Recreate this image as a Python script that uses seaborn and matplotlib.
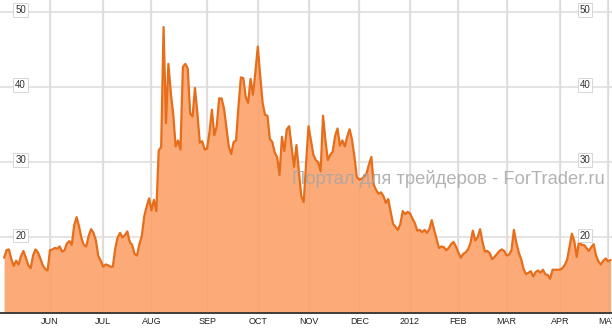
import numpy as np
import pandas as pd
import matplotlib
matplotlib.use("Agg")
import matplotlib.pyplot as plt
import matplotlib.transforms as mtransforms
import seaborn as sns

# ---- data, one value per trading day ----
may11 = [17.3, 18.3, 18.4, 17.1, 16.2, 16.9, 16.4, 17.5, 18.2, 17.3, 16.3, 15.9,
         17.6, 18.4, 18.0, 17.2, 16.3, 15.8, 15.6]
jun11 = [18.3, 18.4, 18.6, 18.5, 18.8, 18.1, 18.3, 19.2, 19.5, 19.0, 21.6, 22.7,
         21.5, 19.9, 19.0, 18.8, 20.2, 21.1, 20.6, 19.6, 17.5, 16.9]
jul11 = [16.1, 16.4, 16.3, 16.1, 16.1, 18.5, 20.0, 20.6, 20.0, 20.3, 20.8, 19.4,
         19.0, 17.8, 17.6, 19.1, 20.2, 22.8, 24.1, 25.2]
aug11 = [23.6, 25.0, 23.5, 31.6, 32.0, 48.0, 35.2, 43.1, 39.2, 36.4, 32.1, 32.9,
         31.7, 42.7, 43.1, 42.5, 36.5, 36.1, 39.9, 36.5, 32.6, 32.8, 31.7]
sep11 = [31.8, 34.0, 37.0, 33.6, 34.8, 38.5, 38.5, 37.2, 34.7, 32.1, 31.1, 32.7,
         32.9, 37.4, 41.3, 41.2, 38.7, 37.9, 41.1, 39.0, 42.0]
oct11 = [45.4, 41.5, 37.9, 36.3, 36.2, 33.1, 32.7, 31.3, 30.7, 28.3, 33.4, 31.5,
         34.4, 34.8, 32.0, 29.4, 32.3, 28.8, 25.5, 24.7, 29.9]
nov11 = [34.8, 32.9, 31.0, 30.3, 30.0, 28.8, 36.2, 32.9, 30.3, 31.0, 31.4, 33.5,
         34.5, 32.2, 32.9, 32.1, 33.4, 34.4, 33.0, 30.7, 28.0]
dec11 = [27.7, 27.8, 28.1, 28.5, 29.7, 30.7, 27.0, 26.3, 25.8, 26.0, 25.5, 24.6,
         25.1, 23.4, 21.8, 21.4, 21.0, 21.8, 23.5, 23.1, 23.4]
jan12 = [23.2, 22.5, 21.9, 20.9, 21.0, 20.7, 21.0, 20.6, 21.1, 22.3, 21.0, 19.8,
         18.6, 18.8, 18.7, 18.3, 18.6, 19.1, 19.4, 18.8]
feb12 = [18.0, 17.3, 17.8, 18.0, 18.4, 19.2, 20.9, 19.6, 20.0, 21.1, 19.4, 18.1,
         18.2, 17.9, 17.1, 17.4, 17.8, 18.2, 18.4, 18.2]
mar12 = [17.6, 17.7, 18.3, 21.0, 19.3, 18.0, 17.1, 15.8, 15.1, 15.3, 15.5, 14.8,
         15.4, 15.6, 15.3, 15.7, 15.1, 15.0, 14.5, 15.7, 15.7, 15.7]
apr12 = [15.7, 15.9, 16.3, 17.0, 18.7, 20.5, 19.5, 17.4, 19.6, 19.0, 19.0, 18.6,
         18.2, 18.7, 19.1, 17.6, 16.8, 16.4, 16.9, 17.2]
may12 = [16.8, 17.0]

values = (may11 + jun11 + jul11 + aug11 + sep11 + oct11 + nov11 + dec11 +
          jan12 + feb12 + mar12 + apr12 + may12)

holidays = ["2011-05-30", "2011-07-04", "2011-09-05", "2011-11-24", "2011-12-26",
            "2012-01-02", "2012-01-16", "2012-02-20", "2012-04-06"]
dates = pd.bdate_range("2011-05-04", "2012-05-31", freq="C", holidays=holidays)[:len(values)]

month_labels = ["JUN", "JUL", "AUG", "SEP", "OCT", "NOV", "DEC", "2012",
                "FEB", "MAR", "APR", "MAY"]
y_ticks = [20, 30, 40, 50]
watermark = "Портал для трейдеров - ForTrader.ru"

df = pd.DataFrame({"idx": np.arange(len(values)), "date": dates, "value": values})

# first trading day of each month from June on
firsts = df.groupby([df.date.dt.year, df.date.dt.month])["idx"].min().values[1:]

# ---- drawing ----
sns.set_style("white")
plt.rcParams["font.family"] = ["Liberation Sans", "DejaVu Sans"]

fig = plt.figure(figsize=(6.12, 3.31), dpi=100)
ax = fig.add_axes([0, 0.0535, 1, 0.9465])

line_c = "#e66d1a"
fill_c = "#fcaa78"
grid_c = "#e4e4e4"

ymin, ymax = 9.9, 51.6
ax.set_xlim(-1.7, 251.6)
ax.set_ylim(ymin, ymax)

for v in y_ticks:
    ax.axhline(v, color=grid_c, lw=1.5, zorder=0)
for p in firsts:
    ax.axvline(p, color=grid_c, lw=1.5, zorder=0)

ax.fill_between(df["idx"], df["value"], ymin, color=fill_c, lw=0, zorder=1)
sns.lineplot(data=df, x="idx", y="value", ax=ax, color=line_c, lw=1.6, zorder=3)

for p in firsts:
    ax.axvline(p, color="#d08a60", lw=1.0, alpha=0.12, zorder=2)

ax.set_xticks(firsts)
ax.set_xticklabels(month_labels[:len(firsts)])
ax.set_yticks([])
ax.tick_params(axis="x", length=0, pad=2.5, labelsize=6.5, colors="#222222")
ax.set_xlabel("")
ax.set_ylabel("")
for s in ["top", "left", "right"]:
    ax.spines[s].set_visible(False)
ax.spines["bottom"].set_color("#333333")
ax.spines["bottom"].set_linewidth(1.3)

trans = mtransforms.blended_transform_factory(ax.transAxes, ax.transData)
for v in y_ticks:
    for xf in (0.0338, 0.956):
        ax.text(xf, v + 0.25, str(v), transform=trans, ha="center", va="center",
                fontsize=7, color="#333333", zorder=5,
                bbox=dict(boxstyle="square,pad=0.2", fc="white", ec="#d0d0d0", lw=0.6))

ax.text(0.988, 27.8, watermark, transform=trans, ha="right", va="center",
        fontsize=13.2, color="#a6a6a6", alpha=0.85, zorder=6)

fig.savefig("out.png", dpi=100)
